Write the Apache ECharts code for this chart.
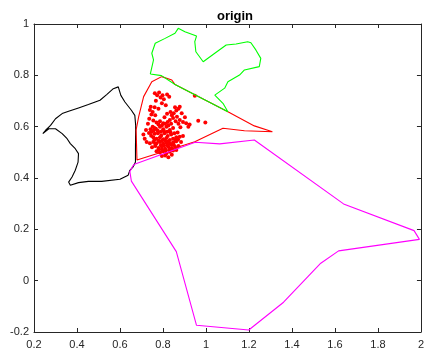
<!DOCTYPE html>
<html><head><meta charset="utf-8">
<script src="https://cdn.jsdelivr.net/npm/echarts@6/dist/echarts.min.js"></script>
<style>html,body{margin:0;padding:0;background:#fff}#c{width:427px;height:356px}</style>
</head><body><div id="c"></div>
<script>
const titleText = 'origin';
const xRange = [0.2, 2, 0.2];
const yRange = [-0.2, 1, 0.2];

const blackPoly = [[0.241,0.573],[0.254,0.586],[0.277,0.605],[0.300,0.631],[0.331,0.651],[0.361,0.660],[0.407,0.673],[0.453,0.686],[0.507,0.703],[0.538,0.725],[0.569,0.748],[0.592,0.755],[0.600,0.748],[0.604,0.722],[0.623,0.696],[0.653,0.664],[0.669,0.644],[0.673,0.605],[0.672,0.514],[0.672,0.462],[0.661,0.443],[0.646,0.430],[0.638,0.411],[0.600,0.395],[0.515,0.387],[0.453,0.387],[0.407,0.382],[0.369,0.372],[0.361,0.384],[0.377,0.404],[0.392,0.430],[0.405,0.462],[0.407,0.495],[0.392,0.514],[0.369,0.534],[0.354,0.553],[0.331,0.573],[0.300,0.592],[0.269,0.592]];

const greenPoly = [[0.741,0.805],[0.756,0.860],[0.748,0.886],[0.764,0.925],[0.810,0.944],[0.856,0.964],[0.871,0.983],[0.902,0.970],[0.956,0.953],[0.948,0.931],[0.953,0.892],[0.987,0.853],[1.041,0.886],[1.094,0.918],[1.140,0.922],[1.194,0.931],[1.209,0.927],[1.232,0.899],[1.255,0.866],[1.248,0.834],[1.179,0.821],[1.156,0.801],[1.102,0.775],[1.087,0.750],[1.041,0.723],[1.079,0.691],[1.102,0.658],[0.856,0.764],[0.793,0.799]];

const redPoly = [[0.794,0.795],[0.748,0.775],[0.710,0.717],[0.687,0.639],[0.675,0.587],[0.679,0.470],[0.687,0.464],[0.948,0.541],[1.079,0.594],[1.179,0.584],[1.309,0.580],[1.225,0.603],[1.102,0.658],[0.856,0.764],[0.841,0.782]];

const magentaPoly = [[0.664,0.453],[0.646,0.425],[0.653,0.388],[0.862,0.113],[0.956,-0.174],[1.199,-0.192],[1.361,-0.084],[1.534,0.068],[1.617,0.116],[1.993,0.161],[2.0,0.165],[1.968,0.195],[1.640,0.299],[1.225,0.548],[1.064,0.533],[0.950,0.539]];

const redPoints = [
[0.762,0.730],[0.773,0.722],[0.782,0.733],[0.789,0.714],[0.798,0.722],[0.804,0.707],[0.819,0.725],[0.829,0.717],
[0.767,0.701],[0.795,0.691],[0.813,0.683],[0.761,0.676],[0.779,0.670],[0.752,0.657],[0.739,0.665],[0.746,0.647],
[0.764,0.644],[0.736,0.631],[0.755,0.624],[0.730,0.611],[0.721,0.587],[0.715,0.553],[0.724,0.540],[0.709,0.569],[0.743,0.678],
[0.819,0.650],[0.835,0.657],[0.850,0.652],[0.862,0.663],[0.872,0.670],[0.856,0.676],[0.878,0.678],[0.865,0.639],
[0.847,0.634],[0.832,0.626],[0.822,0.618],[0.878,0.626],[0.893,0.618],[0.908,0.613],[0.924,0.608],[0.902,0.637],
[0.887,0.652],[0.872,0.611],[0.918,0.600],[0.881,0.598],[0.841,0.644],[0.807,0.637],[0.859,0.621],
[0.948,0.720],[0.964,0.623],[0.997,0.616],
[0.752,0.600],[0.767,0.592],[0.786,0.600],[0.801,0.590],[0.816,0.600],[0.832,0.587],[0.847,0.595],
[0.746,0.579],[0.761,0.572],[0.776,0.574],[0.792,0.566],[0.807,0.574],[0.822,0.564],[0.838,0.569],[0.853,0.574],[0.868,0.577],
[0.755,0.559],[0.770,0.553],[0.786,0.559],[0.801,0.551],[0.816,0.556],[0.832,0.548],[0.847,0.553],[0.862,0.559],[0.878,0.561],[0.893,0.564],
[0.739,0.535],[0.755,0.540],[0.770,0.535],[0.786,0.540],[0.801,0.533],[0.816,0.538],[0.832,0.533],[0.847,0.538],[0.862,0.543],[0.884,0.540],
[0.749,0.520],[0.764,0.525],[0.779,0.517],[0.795,0.522],[0.810,0.514],[0.825,0.522],[0.841,0.517],[0.856,0.522],[0.872,0.525],
[0.770,0.504],[0.786,0.499],[0.801,0.504],[0.816,0.496],[0.832,0.502],[0.847,0.507],[0.862,0.509],
[0.795,0.486],[0.810,0.488],[0.825,0.481],[0.841,0.491],
[0.770,0.616],[0.786,0.621],[0.801,0.613],[0.779,0.608],[0.795,0.605],[0.810,0.611],[0.825,0.605],[0.838,0.611],
[0.760,0.595],[0.775,0.585],[0.790,0.580],[0.805,0.582],[0.820,0.580],[0.835,0.578],[0.780,0.545],[0.795,0.545],
[0.810,0.545],[0.825,0.542],[0.765,0.530],[0.790,0.528],[0.805,0.527],[0.820,0.528],[0.840,0.530],[0.780,0.510],
[0.795,0.512],[0.812,0.508],[0.830,0.512],[0.850,0.530],[0.858,0.548],[0.870,0.550],[0.760,0.548],[0.745,0.565],
[0.757,0.585],[0.742,0.590],[0.735,0.575]
];

function closed(p){ return p.concat([p[0]]); }

const axisCol = '#262626';
const labelStyle = {color:'#262626', fontFamily:'Liberation Sans, Arial, sans-serif', fontSize:11};
function mkX(show, pos){
  return {type:'value', position:pos, min:xRange[0], max:xRange[1], interval:xRange[2],
    axisLine:{show:true, onZero:false, lineStyle:{color:axisCol, width:1}},
    axisTick:{show:true, inside:true, length:4, lineStyle:{color:axisCol}},
    axisLabel:Object.assign({show:show, margin:7}, labelStyle),
    splitLine:{show:false}};
}
function mkY(show, pos){
  return {type:'value', position:pos, min:yRange[0], max:yRange[1], interval:yRange[2],
    axisLine:{show:true, onZero:false, lineStyle:{color:axisCol, width:1}},
    axisTick:{show:true, inside:true, length:4, lineStyle:{color:axisCol}},
    axisLabel:Object.assign({show:show, margin:5}, labelStyle),
    splitLine:{show:false}};
}
function lineSeries(data, color){
  return {type:'line', data:closed(data), showSymbol:false, symbol:'none', clip:true,
    lineStyle:{color:color, width:1.1}, itemStyle:{color:color}, animation:false, silent:true};
}

const chart = echarts.init(document.getElementById('c'), null, {renderer:'canvas'});
chart.setOption({
  backgroundColor:'#fff',
  animation:false,
  title:{text:titleText, left:230, top:5, textAlign:'center',
    textStyle:{fontFamily:'Liberation Sans, Arial, sans-serif', fontSize:13, fontWeight:'bold', color:'#000'}},
  grid:{left:34, right:1, top:24, bottom:24, containLabel:false},
  xAxis:[mkX(true,'bottom'), mkX(false,'top')],
  yAxis:[mkY(true,'left'), mkY(false,'right')],
  series:[
    lineSeries(blackPoly,'#000000'),
    lineSeries(redPoly,'#ff0000'),
    lineSeries(greenPoly,'#00ff00'),
    lineSeries(magentaPoly,'#ff00ff'),
    {type:'scatter', data:redPoints, symbol:'circle', symbolSize:4, itemStyle:{color:'#ff0000', opacity:1}, silent:true, animation:false}
  ]
});
</script></body></html>
